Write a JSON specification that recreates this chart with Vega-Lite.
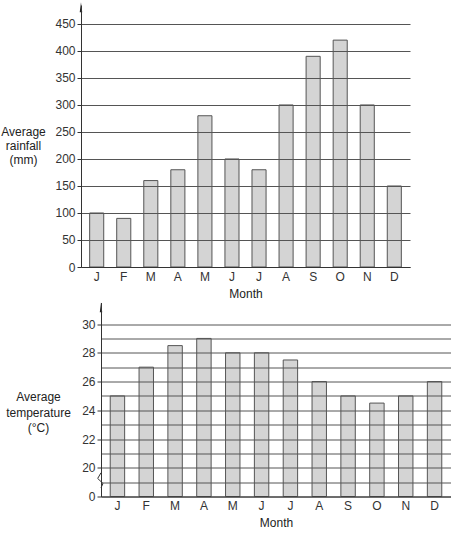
{
  "$schema": "https://vega.github.io/schema/vega-lite/v6.json",
  "background": "white",
  "padding": {"left": 0, "top": 2, "right": 0, "bottom": 0},
  "datasets": {
    "rainfall": [
      {"month": "Jan", "rainfall": 100},
      {"month": "Feb", "rainfall": 90},
      {"month": "Mar", "rainfall": 160},
      {"month": "Apr", "rainfall": 180},
      {"month": "May", "rainfall": 280},
      {"month": "Jun", "rainfall": 200},
      {"month": "Jul", "rainfall": 180},
      {"month": "Aug", "rainfall": 300},
      {"month": "Sep", "rainfall": 390},
      {"month": "Oct", "rainfall": 420},
      {"month": "Nov", "rainfall": 300},
      {"month": "Dec", "rainfall": 150}
    ],
    "temperature": [
      {"month": "Jan", "temp": 25},
      {"month": "Feb", "temp": 27},
      {"month": "Mar", "temp": 28.5},
      {"month": "Apr", "temp": 29},
      {"month": "May", "temp": 28},
      {"month": "Jun", "temp": 28},
      {"month": "Jul", "temp": 27.5},
      {"month": "Aug", "temp": 26},
      {"month": "Sep", "temp": 25},
      {"month": "Oct", "temp": 24.5},
      {"month": "Nov", "temp": 25},
      {"month": "Dec", "temp": 26}
    ]
  },
  "spacing": 2.5,
  "vconcat": [
    {
      "width": 329,
      "height": 262,
      "resolve": {"axis": {"x": "independent", "y": "independent"}},
      "layer": [
        {
          "data": {"name": "rainfall"},
          "mark": {"type": "bar", "fill": "#d4d4d4", "stroke": "#555", "strokeWidth": 1},
          "encoding": {
            "x": {
              "field": "month",
              "type": "ordinal",
              "scale": {
                "domain": ["Jan", "Feb", "Mar", "Apr", "May", "Jun", "Jul", "Aug", "Sep", "Oct", "Nov", "Dec"],
                "paddingInner": 0.48,
                "paddingOuter": 0.32
              },
              "axis": {
                "title": "Month",
                "labelExpr": "substring(datum.label, 0, 1)",
                "labelAngle": 0,
                "ticks": false,
                "labelPadding": 4,
                "titlePadding": 6,
                "zindex": 1
              }
            },
            "y": {
              "field": "rainfall",
              "type": "quantitative",
              "scale": {"domain": [0, 485], "nice": false},
              "axis": {
                "values": [0, 50, 100, 150, 200, 250, 300, 350, 400, 450],
                "grid": true,
                "zindex": 1,
                "title": ["Average", "rainfall", "(mm)"],
                "titleAngle": 0,
                "titleAlign": "center",
                "titleBaseline": "top",
                "titleX": -58,
                "titleY": 121,
                "titleLineHeight": 14,
                "tickSize": 4,
                "labelPadding": 2
              }
            }
          }
        },
        {
          "data": {"values": [{}]},
          "mark": {"type": "point", "shape": "M0,-1L0.25,1L-0.25,1Z", "filled": true, "fill": "#222", "stroke": null, "size": 100, "opacity": 1, "zindex": 2},
          "encoding": {
            "x": {"datum": "Jan", "type": "ordinal", "bandPosition": -0.6155, "axis": null},
            "y": {"datum": 481, "type": "quantitative", "axis": null}
          }
        }
      ]
    },
    {
      "width": 370,
      "height": 194,
      "resolve": {"axis": {"x": "independent", "y": "independent"}},
      "layer": [
        {
          "data": {"name": "temperature"},
          "mark": {"type": "bar", "fill": "#d4d4d4", "stroke": "#555", "strokeWidth": 1},
          "encoding": {
            "x": {
              "field": "month",
              "type": "ordinal",
              "scale": {
                "domain": ["Jan", "Feb", "Mar", "Apr", "May", "Jun", "Jul", "Aug", "Sep", "Oct", "Nov", "Dec"],
                "range": [20, 370],
                "paddingInner": 0.5,
                "paddingOuter": 0.32
              },
              "axis": {
                "title": "Month",
                "labelExpr": "substring(datum.label, 0, 1)",
                "labelAngle": 0,
                "ticks": false,
                "labelPadding": 4,
                "titlePadding": 6,
                "zindex": 1
              }
            },
            "y": {
              "field": "temp",
              "type": "quantitative",
              "scale": {"domain": [18, 31.5], "nice": false, "zero": false},
              "axis": {
                "offset": -20,
                "gridScale": "x",
                "values": [18, 19, 20, 21, 22, 23, 24, 25, 26, 27, 28, 29, 30],
                "labelExpr": "datum.value == 18 ? '0' : (datum.value % 2 == 0 ? datum.label : '')",
                "tickOpacity": {"condition": {"test": "datum.value % 2 == 0", "value": 1}, "value": 0},
                "grid": true,
                "zindex": 1,
                "title": ["Average", "temperature", "(°C)"],
                "titleAngle": 0,
                "titleAlign": "center",
                "titleBaseline": "top",
                "titleX": -63,
                "titleY": 89,
                "titleLineHeight": 15.5,
                "tickSize": 4,
                "labelPadding": 2
              }
            },
            "y2": {"datum": 18}
          }
        },
        {
          "data": {"values": [{}]},
          "mark": {"type": "point", "shape": "M0,-1L0.25,1L-0.25,1Z", "filled": true, "fill": "#222", "stroke": null, "size": 100, "opacity": 1, "zindex": 2},
          "encoding": {
            "x": {"datum": "Jan", "type": "ordinal", "bandPosition": -0.64, "axis": null},
            "y": {"datum": 31.17, "type": "quantitative", "axis": null}
          }
        },
        {
          "data": {"values": [{}]},
          "mark": {"type": "point", "shape": "M-0.22,-0.95H0.22V0.95H-0.22Z", "filled": true, "fill": "white", "stroke": null, "size": 225, "opacity": 1, "zindex": 2},
          "encoding": {
            "x": {"datum": "Jan", "type": "ordinal", "bandPosition": -0.64, "axis": null},
            "y": {"datum": 19.13, "type": "quantitative", "axis": null}
          }
        },
        {
          "data": {"values": [{}]},
          "mark": {"type": "point", "shape": "M0,-1L-0.44,-0.24L0.27,0.43L0,1", "filled": false, "fill": null, "stroke": "#333", "strokeWidth": 1, "size": 225, "opacity": 1, "zindex": 3},
          "encoding": {
            "x": {"datum": "Jan", "type": "ordinal", "bandPosition": -0.64, "axis": null},
            "y": {"datum": 19.13, "type": "quantitative", "axis": null}
          }
        }
      ]
    }
  ],
  "config": {
    "font": "Liberation Sans",
    "view": {"stroke": null},
    "axis": {
      "labelFont": "Liberation Sans",
      "titleFont": "Liberation Sans",
      "labelFontSize": 12,
      "titleFontSize": 12,
      "titleFontWeight": "normal",
      "labelColor": "#333",
      "titleColor": "#222",
      "domainColor": "#333",
      "tickColor": "#333",
      "gridColor": "#555",
      "gridOpacity": 1
    }
  }
}
